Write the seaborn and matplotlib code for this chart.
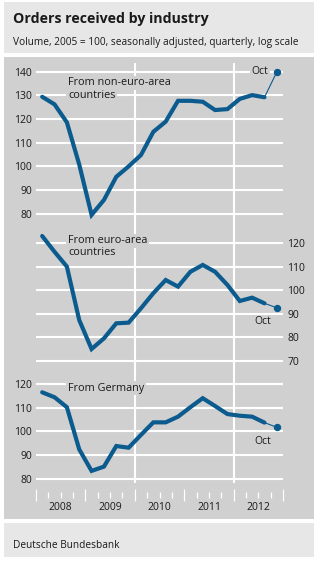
import matplotlib
matplotlib.use("Agg")
import matplotlib.pyplot as plt
from matplotlib.patches import Rectangle
from matplotlib.ticker import FixedLocator, NullFormatter
import matplotlib.transforms as mtransforms
import seaborn as sns
import pandas as pd

# ---------------- data ----------------
years = [2008, 2009, 2010, 2011, 2012]
periods = ["2008Q1", "2008Q2", "2008Q3", "2008Q4",
           "2009Q1", "2009Q2", "2009Q3", "2009Q4",
           "2010Q1", "2010Q2", "2010Q3", "2010Q4",
           "2011Q1", "2011Q2", "2011Q3", "2011Q4",
           "2012Q1", "2012Q2", "2012Q3", "2012Q4"]  # last = October 2012
non_euro = [129.4, 126.2, 118.6, 100.8, 79.5, 85.8, 95.6, 100.0, 104.8, 114.6,
            118.9, 127.7, 127.7, 127.3, 123.8, 124.2, 128.5, 130.1, 129.2, 139.9]
euro = [123.1, 116.4, 110.1, 87.4, 75.1, 79.6, 86.0, 86.3, 92.4, 98.8,
        104.4, 101.6, 107.9, 110.8, 107.9, 102.3, 95.5, 96.9, 94.5, 92.6]
germany = [116.5, 114.4, 110.2, 92.4, 83.3, 85.1, 93.8, 93.1, 98.5, 103.8,
           103.8, 106.2, 110.2, 114.0, 110.7, 107.3, 106.6, 106.2, 103.7, 101.7]
ticks_non_euro = [80, 90, 100, 110, 120, 130, 140]
ticks_euro = [70, 80, 90, 100, 110, 120]
ticks_germany = [80, 90, 100, 110, 120]

title = "Orders received by industry"
subtitle = "Volume, 2005 = 100, seasonally adjusted, quarterly, log scale"
source = "Deutsche Bundesbank"

# ---------------- style ----------------
sns.set_theme(style="white")
plt.rcParams["font.family"] = ["Open Sans", "DejaVu Sans"]

BLUE = "#0b5b8f"
PANEL = "#d0d0d0"
LIGHT = "#e7e7e7"
TXT = "#1a1a1a"

W, H = 322, 562
fig = plt.figure(figsize=(W / 100, H / 100), dpi=100)
fig.patch.set_facecolor("white")


def fr(x0, y0, x1, y1):
    """pixel box (top-left origin) -> figure fraction rect"""
    return [x0 / W, 1 - y1 / H, (x1 - x0) / W, (y1 - y0) / H]


# background boxes
for (x0, y0, x1, y1, c) in [(4, 2, 314, 53, LIGHT), (4, 57, 314, 519, PANEL), (4, 523, 314, 557, LIGHT)]:
    b = fr(x0, y0, x1, y1)
    fig.patches.append(Rectangle((b[0], b[1]), b[2], b[3], transform=fig.transFigure,
                                 facecolor=c, edgecolor="none", zorder=-5))

fig.text(13 / W, 1 - 19 / H, title, fontsize=10.2, fontweight="bold", color=TXT, va="center", ha="left")
fig.text(13 / W, 1 - 43 / H, subtitle, fontsize=7.25, color=TXT, va="center", ha="left")
fig.text(13 / W, 1 - 545 / H, source, fontsize=7.25, color=TXT, va="center", ha="left")

XL, XR = 36, 283
X0, X1 = 2008, 2013

df = pd.DataFrame({"period": periods, "non_euro": non_euro, "euro": euro, "germany": germany})
df["x"] = df["period"].str[:4].astype(int) + (df["period"].str[-1].astype(int) - 0.5) / 4

# background axes for vertical gridlines
bg = fig.add_axes(fr(XL, 63, XR, 483))
bg.set_xlim(X0, X1)
bg.set_ylim(0, 1)
bg.axis("off")
bg.patch.set_alpha(0)
for yv in [2010, 2012]:
    bg.axvline(yv, color="white", lw=1.5, zorder=1)

# tick axes (year boundaries / quarters)
tk = fig.add_axes(fr(XL, 480, XR, 495))
tk.set_xlim(X0, X1)
tk.patch.set_alpha(0)
for s in tk.spines.values():
    s.set_visible(False)
tk.set_yticks([])
tk.xaxis.set_major_locator(FixedLocator([2008, 2009, 2010, 2011, 2012, 2013]))
tk.xaxis.set_minor_locator(FixedLocator([y + q / 4 for y in years for q in (1, 2, 3)]))
tk.xaxis.set_major_formatter(NullFormatter())
tk.tick_params(axis="x", which="major", direction="inout", length=8.6, width=0.9, color="white", bottom=True)
tk.tick_params(axis="x", which="minor", direction="inout", length=3.8, width=0.9, color="white", bottom=True)
trans = mtransforms.blended_transform_factory(tk.transData, fig.transFigure)
for y in years:
    tk.text(y + 0.5, 1 - 508 / H, str(y), transform=trans, ha="center", va="center", fontsize=7.5, color=TXT)


def panel(col, ylim, ypx_top, ypx_bot, ticks, side, label_lines, label_y, oct_xy):
    ax = fig.add_axes(fr(XL, ypx_top, XR, ypx_bot))
    ax.patch.set_alpha(0)
    ax.set_xlim(X0, X1)
    ax.set_ylim(*ylim)
    for s in ax.spines.values():
        s.set_visible(False)
    ax.set_xticks([])
    ax.set_yticks(ticks)
    ax.set_yticklabels([str(t) for t in ticks], fontsize=7.5, color=TXT)
    if side == "right":
        ax.yaxis.tick_right()
    ax.tick_params(axis="y", length=0, pad=3)
    for t in ticks:
        ax.axhline(t, color="white", lw=1.5, zorder=1)
    main = df.iloc[:-1]
    last = df.iloc[-2:]
    sns.lineplot(data=main, x="x", y=col, ax=ax, color=BLUE, lw=3.0, zorder=3,
                 sort=False, solid_joinstyle="miter")
    sns.lineplot(data=last, x="x", y=col, ax=ax, color=BLUE, lw=0.8, zorder=3, sort=False)
    ax.plot(df["x"].iloc[-1], df[col].iloc[-1], "o", color=BLUE, ms=4.3, zorder=4)
    ax.set_xlabel("")
    ax.set_ylabel("")
    tr = mtransforms.blended_transform_factory(ax.transData, fig.transFigure)
    for line, ly in zip(label_lines, label_y):
        ax.text(2008 + (68 - XL) / (XR - XL) * 5, 1 - ly / H, line, transform=tr, ha="left", va="center",
                fontsize=7.8, color=TXT, zorder=5,
                bbox=dict(boxstyle="square,pad=0.15", fc=PANEL, ec="none"))
    ox, oy = oct_xy
    ax.text(2008 + (ox - XL) / (XR - XL) * 5, 1 - oy / H, "Oct", transform=tr, ha="center", va="center",
            fontsize=7.5, color=TXT, zorder=5,
            bbox=dict(boxstyle="square,pad=0.15", fc=PANEL, ec="none"))
    return ax


def px(v, v_ref, y_ref, ppu):
    return y_ref - (v - v_ref) * ppu


# top panel: 140 at 71.7 px, 80 at 213.7 px
p1 = (213.7 - 71.7) / 60
panel("non_euro", (76, 143), px(143, 140, 71.7, p1), px(76, 140, 71.7, p1), ticks_non_euro, "left",
      ["From non-euro-area", "countries"], [82.7, 96], (260, 72))
# middle panel: 120 at 243.3, 70 at 361
p2 = (361 - 243.3) / 50
panel("euro", (67, 126), px(126, 120, 243.3, p2), px(67, 120, 243.3, p2), ticks_euro, "right",
      ["From euro-area", "countries"], [240.7, 252.3], (263, 322))
# bottom panel: 120 at 384, 80 at 478.7
p3 = (478.7 - 384) / 40
panel("germany", (78, 121), px(121, 120, 384, p3), px(78, 120, 384, p3), ticks_germany, "left",
      ["From Germany"], [388], (263, 441))

fig.savefig("out.png", dpi=100)
